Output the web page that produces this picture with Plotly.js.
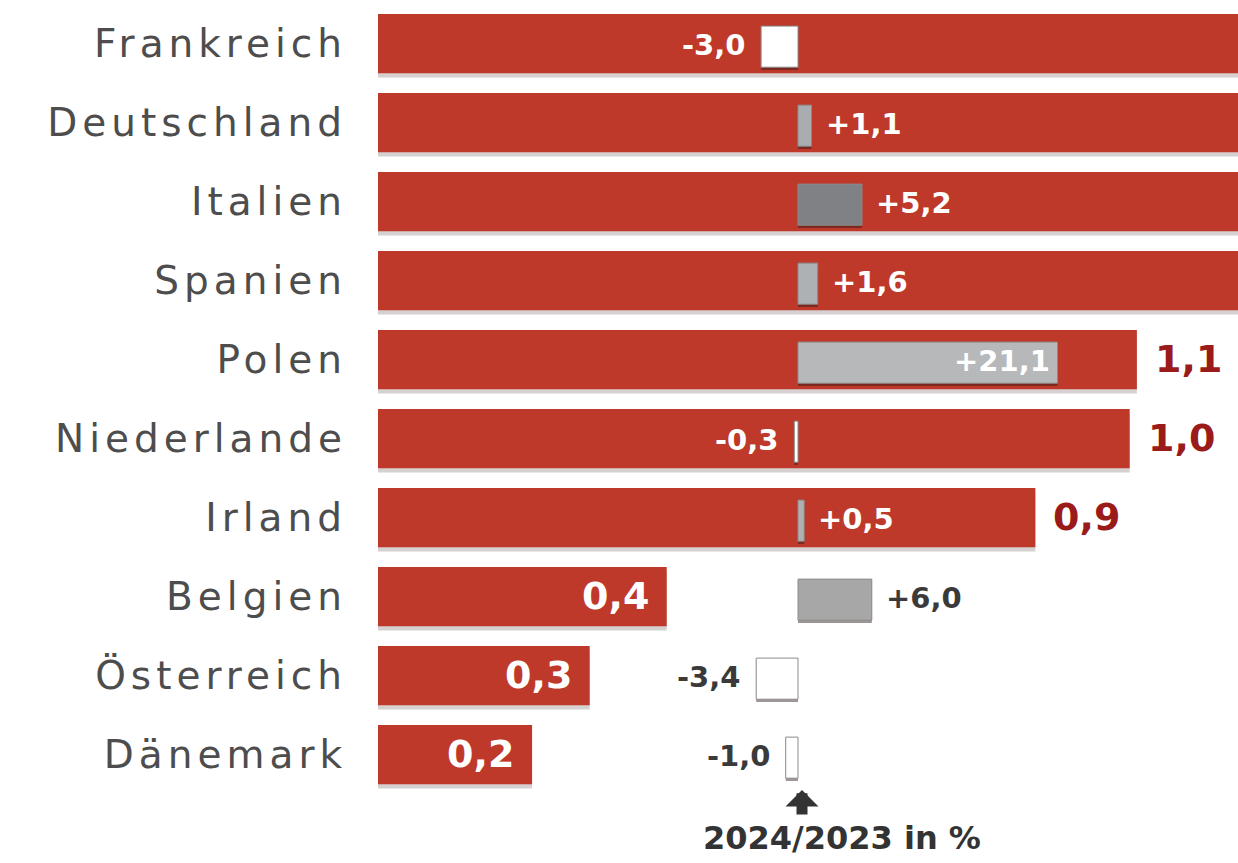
<!DOCTYPE html>
<html><head><meta charset="utf-8">
<script src="https://cdn.plot.ly/plotly-3.0.1.min.js"></script>
<style>
html,body{margin:0;padding:0;background:#fff;}
#chart{width:1238px;height:863px;}
.ytick text{letter-spacing:5px;}
</style></head><body><div id="chart"></div>
<script>
// ---- data ----
const countries = ['Frankreich','Deutschland','Italien','Spanien','Polen','Niederlande','Irland','Belgien','Österreich','Dänemark'];
// volume; the four top bars run off the picture, their values are estimates beyond the visible range
const volume = [3.4, 3.0, 1.9, 1.7, 1.054, 1.044, 0.913, 0.401, 0.294, 0.214];
// change 2024/2023 in %
const change = [-3.0, 1.1, 5.2, 1.6, 21.1, -0.3, 0.5, 6.0, -3.4, -1.0];
const changeTitle = '2024/2023 in %';

// ---- styles ----
const changeFill = ['#ffffff','#a9adb1','#7f8184','#aeb1b4','#b6b8ba','#ffffff','#b0b0b0','#a7a7a7','#ffffff','#ffffff'];
const RED = '#be392a';
const FONT = 'DejaVu Sans';

const W = 1238, H = 863, L = 378, T = 4, B = 69;
const plotW = W - L, plotH = H - T - B;
const pxPerUnit = 720;
const volRange = [0, plotW / pxPerUnit];
const pctZeroPx = 420, pxPerPct = 12.3;
const pctRange = [-pctZeroPx / pxPerPct, (plotW - pctZeroPx) / pxPerPct];

const fmt = v => v.toFixed(1).replace('.', ',');

const traces = [
  {type:'bar', orientation:'h', y:countries, x:volume, xaxis:'x', yaxis:'y',
   width:0.75, offset:-0.375+0.055, marker:{color:'rgba(70,40,40,0.22)'}, hoverinfo:'skip', showlegend:false},
  {type:'bar', orientation:'h', y:countries, x:volume, xaxis:'x', yaxis:'y',
   width:0.75, offset:-0.375, marker:{color:RED}, hoverinfo:'x+y', showlegend:false},
  {type:'bar', orientation:'h', y:countries, x:change, xaxis:'x2', yaxis:'y',
   width:0.52, offset:-0.26+0.075, marker:{color:'rgba(40,20,20,0.45)'}, hoverinfo:'skip', showlegend:false},
  {type:'bar', orientation:'h', y:countries, x:change, xaxis:'x2', yaxis:'y',
   width:0.52, offset:-0.26+0.04, marker:{color:changeFill, line:{color:'#8c8c8c', width:1}}, hoverinfo:'x+y', showlegend:false}
];

const annotations = [];
countries.forEach((c, i) => {
  const v = volume[i];
  if (v <= volRange[1]) {
    const outside = v * pxPerUnit > pctZeroPx;
    annotations.push({xref:'x', yref:'y', x:v, y:c, text:fmt(v), showarrow:false,
      xanchor: outside ? 'left' : 'right', xshift: outside ? 16 : -16, yshift:1,
      font:{family:FONT, size:38, weight:'bold', color: outside ? '#9b1a1a' : '#ffffff'}});
  }
  const p = change[i];
  const boxPx = Math.abs(p) * pxPerPct;
  const txt = (p > 0 ? '+' : '') + fmt(p);
  let anchor, shift, color;
  const onRed = v * pxPerUnit > pctZeroPx + Math.max(p, 0) * pxPerPct + 80;
  if (boxPx > 120) { anchor = 'right'; shift = -6; color = '#ffffff'; }
  else if (p >= 0) { anchor = 'left'; shift = 12; color = onRed ? '#ffffff' : '#3a3a3a'; }
  else { anchor = 'right'; shift = -14; color = onRed ? '#ffffff' : '#3a3a3a'; }
  annotations.push({xref:'x2', yref:'y', x:p, y:c, text:txt, showarrow:false,
    xanchor:anchor, xshift:shift, yshift:-1,
    font:{family:FONT, size:29, weight:'bold', color:color}});
});
// arrow and caption under the zero line of the change scale
const bottomPx = T + plotH;
annotations.push({xref:'x2', yref:'paper', x:0, y:(bottomPx - 790) / plotH, xshift:4,
  ax:0, ay:26, text:'', showarrow:true, arrowhead:1, arrowsize:0.5, arrowwidth:11, arrowcolor:'#333333'});
annotations.push({xref:'x2', yref:'paper', x:0, y:-(838 - bottomPx) / plotH, xshift:44, text:changeTitle, showarrow:false,
  xanchor:'center', yanchor:'middle', font:{family:FONT, size:32, weight:'bold', color:'#333333'}});

const layout = {
  width:W, height:H, margin:{l:L, r:0, t:T, b:B, pad:0},
  paper_bgcolor:'#ffffff', plot_bgcolor:'#ffffff',
  barmode:'overlay', showlegend:false,
  xaxis:{range:volRange, visible:false, fixedrange:true},
  xaxis2:{range:pctRange, overlaying:'x', visible:false, fixedrange:true},
  yaxis:{type:'category', categoryorder:'array', categoryarray:countries, range:[9.5, -0.5],
    showgrid:false, zeroline:false, showline:false, ticks:'', ticklabelstandoff:30,
    tickfont:{family:FONT, size:39, color:'#4d4d4d'}, fixedrange:true},
  annotations:annotations
};

Plotly.newPlot('chart', traces, layout, {displayModeBar:false, staticPlot:true});
</script></body></html>
